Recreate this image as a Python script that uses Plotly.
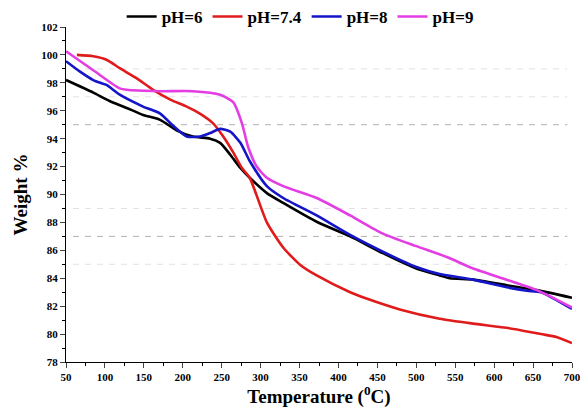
import plotly.graph_objects as go

# ---- data ----
t_ph6 = [50, 85, 106, 128, 149, 171, 192, 213, 235, 248, 261, 274, 286, 308, 329, 372, 415, 457, 500, 530, 543, 573, 616, 655, 700]
w_ph6 = [98.2, 97.3, 96.7, 96.2, 95.7, 95.35, 94.6, 94.15, 94.0, 93.7, 92.85, 91.9, 91.2, 90.1, 89.4, 88.05, 87.0, 85.8, 84.7, 84.2, 84.0, 83.9, 83.5, 83.15, 82.6]

t_ph74 = [64, 85, 102, 119, 140, 162, 184, 205, 222, 239, 252, 265, 276, 286, 308, 329, 351, 372, 415, 436, 480, 530, 573, 616, 660, 680, 700]
w_ph74 = [100.0, 99.9, 99.65, 99.05, 98.35, 97.5, 96.8, 96.3, 95.8, 95.1, 94.15, 93.0, 91.9, 91.2, 88.0, 86.2, 84.95, 84.2, 83.0, 82.55, 81.75, 81.1, 80.75, 80.45, 80.0, 79.8, 79.35]

t_ph8 = [50, 68, 85, 94, 102, 119, 149, 171, 188, 205, 222, 235, 248, 261, 274, 286, 308, 329, 372, 415, 457, 500, 530, 573, 616, 642, 660, 700]
w_ph8 = [99.55, 98.8, 98.2, 98.0, 97.85, 97.15, 96.3, 95.8, 94.9, 94.15, 94.15, 94.4, 94.7, 94.5, 93.7, 92.4, 90.6, 89.75, 88.5, 87.1, 85.9, 84.8, 84.3, 83.9, 83.35, 83.1, 83.0, 81.8]

t_ph9 = [50, 85, 119, 128, 171, 213, 248, 265, 276, 284, 295, 308, 329, 372, 415, 457, 500, 540, 573, 616, 655, 700]
w_ph9 = [100.26, 98.9, 97.6, 97.5, 97.4, 97.4, 97.15, 96.6, 95.1, 93.4, 92.0, 91.2, 90.6, 89.75, 88.5, 87.2, 86.3, 85.5, 84.7, 83.9, 83.15, 81.9]

series_names = ["pH=6", "pH=7.4", "pH=8", "pH=9"]
series_colors = ["#000000", "#e01b1b", "#1414c8", "#e33de3"]

grid_levels = [99, 97, 95, 89, 87, 85]
grid_colors = ["#e2e2e2", "#e2e2e2", "#b0b0b0", "#e2e2e2", "#b0b0b0", "#e2e2e2"]

x_ticks = list(range(50, 701, 50))
y_ticks = list(range(78, 103, 2))

FONT = "Liberation Serif, Times New Roman, serif"

fig = go.Figure()
for (tx, wy), name, col in zip([(t_ph6, w_ph6), (t_ph74, w_ph74), (t_ph8, w_ph8), (t_ph9, w_ph9)],
                               series_names, series_colors):
    fig.add_trace(go.Scatter(x=tx, y=wy, mode="lines", name=name,
                             line=dict(color=col, width=2.6, shape="spline", smoothing=0.6)))

for lvl, gc in zip(grid_levels, grid_colors):
    fig.add_shape(type="line", x0=59, x1=694, y0=lvl, y1=lvl, xref="x", yref="y",
                  line=dict(color=gc, width=1, dash="6px,6px"), layer="below")

fig.update_layout(
    width=580, height=412,
    margin=dict(l=66, r=8, t=27, b=50, autoexpand=False),
    paper_bgcolor="white", plot_bgcolor="white",
    font=dict(family=FONT, color="black"),
    showlegend=True,
    legend=dict(orientation="h", x=0.11, y=1 - 17 / 412, xanchor="left", yanchor="middle",
                yref="container",
                font=dict(family=FONT, size=17, color="black", weight="bold"),
                itemwidth=30, tracegroupgap=0, bgcolor="rgba(0,0,0,0)"),
    xaxis=dict(range=[50, 700], tickvals=x_ticks, ticks="outside", ticklen=5, tickwidth=1,
               showline=True, linecolor="black", linewidth=1, showgrid=False, zeroline=False,
               ticklabeloverflow="allow",
               tickfont=dict(family=FONT, size=11, weight="bold"),
               minor=dict(dtick=25, tick0=50, ticks="outside", ticklen=3, tickcolor="black", showgrid=False),
               title=dict(text="Temperature (<sup>0</sup>C)", font=dict(family=FONT, size=19, weight="bold"), standoff=6)),
    yaxis=dict(range=[78, 102], tickvals=y_ticks, ticks="outside", ticklen=5, tickwidth=1,
               showline=True, linecolor="black", linewidth=1, showgrid=False, zeroline=False,
               ticklabeloverflow="allow",
               tickfont=dict(family=FONT, size=11, weight="bold"),
               minor=dict(dtick=1, tick0=78, ticks="outside", ticklen=3, tickcolor="black", showgrid=False),
               title=dict(text="Weight %", font=dict(family=FONT, size=19, weight="bold"), standoff=8)),
)

fig.write_html("out.html")
